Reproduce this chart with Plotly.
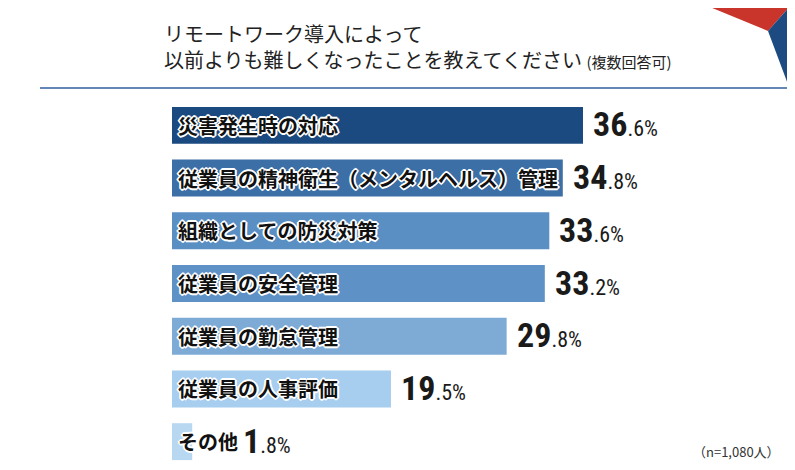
import plotly.graph_objects as go

# data
categories = [
    "災害発生時の対応",
    "従業員の精神衛生（メンタルヘルス）管理",
    "組織としての防災対策",
    "従業員の安全管理",
    "従業員の勤怠管理",
    "従業員の人事評価",
    "その他",
]
values = [36.6, 34.8, 33.6, 33.2, 29.8, 19.5, 1.8]
bar_colors = ["#1b4a80", "#3b6fa6", "#5a8fc4", "#5e92c6", "#7eabd6", "#a7cdef", "#b8d8f2"]

title_line1 = "リモートワーク導入によって"
title_line2 = "以前よりも難しくなったことを教えてください"
title_note = "(複数回答可)"
sample_note = "（n=1,080人）"

W, H = 795, 470
OFF = 8  # page body margin pushes the figure right/down
L, R, T, B = 172 - OFF, 5, 99 - OFF, 2 + OFF
plot_w = W - L - R
plot_h = H - T - B
px_per_unit = 411 / 36.6
X_MAX = plot_w / px_per_unit


def px(x):  # screen pixel x -> paper x
    return (x - OFF - L) / plot_w


def py(y):  # screen pixel y -> paper y
    return (H - B - (y - OFF)) / plot_h


ypos = list(range(len(categories)))

fig = go.Figure(go.Bar(
    x=values,
    y=ypos,
    orientation="h",
    width=0.7,
    marker=dict(color=bar_colors, line=dict(width=0)),
    hoverinfo="skip",
))

outline = ("-1px -1px 0 #fff, 1px -1px 0 #fff, -1px 1px 0 #fff, 1px 1px 0 #fff, "
           "0 -2px 0 #fff, 0 2px 0 #fff, -2px 0 0 #fff, 2px 0 0 #fff")

for i, (cat, v) in enumerate(zip(categories, values)):
    # category label inside bar
    fig.add_annotation(
        x=0, y=i, xref="x", yref="y", text=cat, showarrow=False,
        xanchor="left", yanchor="middle", xshift=4,
        font=dict(family="Noto Sans CJK JP", size=20, color="#111", weight="bold",
                  shadow=outline),
    )
    # value label after bar (or after category text if it overflows)
    text_end = 4 + len(cat) * 20 + 5
    start = max(v * px_per_unit + 8, text_end)
    whole, dec = f"{v:.1f}".split(".")
    fig.add_annotation(
        x=start / px_per_unit, y=i, xref="x", yref="y", showarrow=False,
        xanchor="left", yanchor="middle", yshift=1,
        text=f"<b><span style='font-size:34px'>{whole}</span></b>"
             f"<span style='font-size:22px'>.{dec}%</span>",
        font=dict(family="Liberation Sans Narrow, Roboto Condensed, Roboto", size=34,
                  color="#1a1a1a"),
    )

# header
fig.add_annotation(x=px(162), y=py(47), xref="paper", yref="paper",
                   text=f"{title_line1}<br>{title_line2} "
                        f"<span style='font-size:15px'>{title_note}</span>",
                   showarrow=False, xanchor="left", yanchor="middle", align="left",
                   font=dict(family="Noto Sans CJK JP", size=20, color="#222"))
fig.add_annotation(x=px(782), y=py(451), xref="paper", yref="paper", text=sample_note,
                   showarrow=False, xanchor="right", yanchor="middle",
                   font=dict(family="Noto Sans CJK JP", size=13, color="#333"))

fig.add_shape(type="line", xref="paper", yref="paper",
              x0=px(40), x1=px(789), y0=py(88), y1=py(88),
              line=dict(color="#2f5f9e", width=1.5))
fig.add_shape(type="path", xref="paper", yref="paper",
              path=f"M {px(705)} {py(5)} L {px(791)} {py(5)} L {px(768)} {py(31)} Z",
              fillcolor="#c9342b", line=dict(width=0))
fig.add_shape(type="path", xref="paper", yref="paper",
              path=f"M {px(791)} {py(5)} L {px(768)} {py(31)} L {px(789)} {py(87)} L {px(791)} {py(87)} Z",
              fillcolor="#1d4a80", line=dict(width=0))

fig.update_xaxes(range=[0, X_MAX], visible=False, fixedrange=True)
fig.update_yaxes(range=[len(categories) - 0.5, -0.5], visible=False, fixedrange=True)
fig.update_layout(
    width=W, height=H,
    margin=dict(l=L, r=R, t=T, b=B),
    paper_bgcolor="white", plot_bgcolor="white",
    showlegend=False,
)

fig.write_html("out.html")
